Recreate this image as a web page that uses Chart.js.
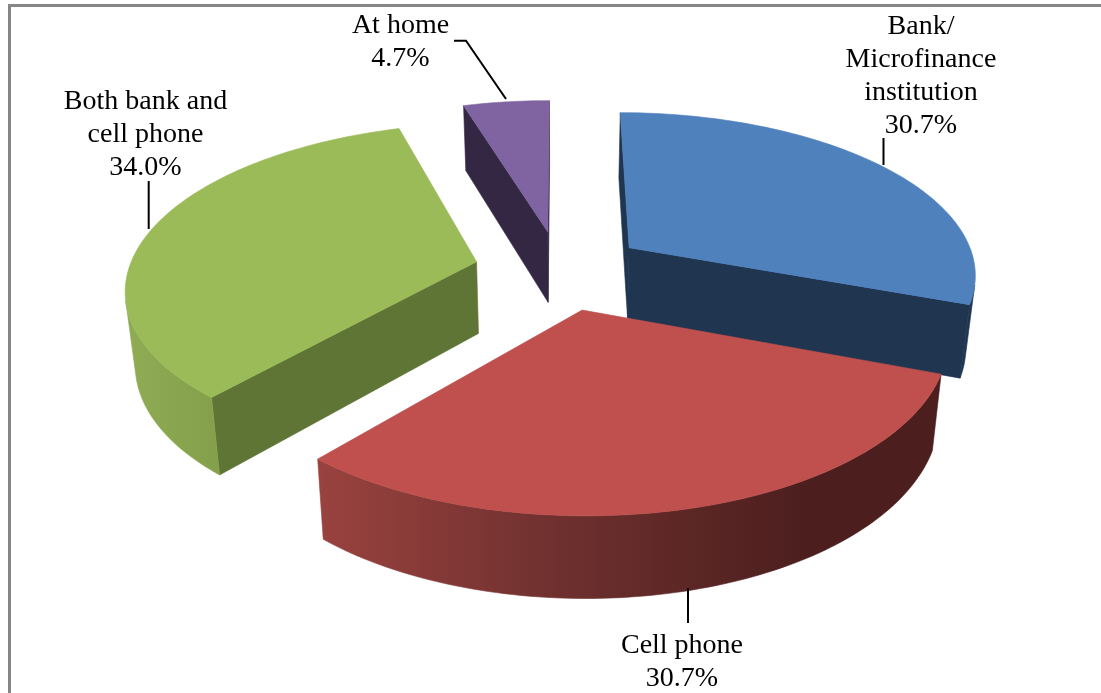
<!DOCTYPE html>
<html>
<head>
<meta charset="utf-8">
<style>
  html, body { margin: 0; padding: 0; background: #fff; overflow: hidden; }
  canvas { display: block; }
</style>
<script src="https://cdn.jsdelivr.net/npm/chart.js@4"></script>
</head>
<body>
<canvas id="chart" width="1101" height="693"></canvas>
<script>
// Where people keep their money: share of respondents per place
const categories = ['Bank/\nMicrofinance\ninstitution', 'Cell phone', 'Both bank and\ncell phone', 'At home'];
const shares = [30.7, 30.7, 34.0, 4.7];

const topColors = ['#4F81BD', '#C0504D', '#9BBB59', '#8064A2'];
const sideColors = ['#1F3550', '#4C1F1E', '#5F7536', '#332744'];
// Curved rim shading: horizontal screen range and colour stops for each slice
const rimShading = [
  { from: 900, to: 980, stops: ['#1F3550', '#1F3550'] },
  { from: 320, to: 800, stops: ['#99423F', '#6E302E', '#4C1F1E'] },
  { from: 128, to: 215, stops: ['#8FAB54', '#84A04A'] },
  { from: 460, to: 550, stops: ['#332744', '#332744'] }
];

const explosion = 0.247;           // slice pull-out, in pie radii
const paintOrder = [3, 2, 0, 1];   // far slices first

// Camera for the tilted pie: top plane and bottom plane of the disc
const camera = { cx: 560, perspective: 0.15, focal: 348, bottomShrink: 0.977,
                 topY: 270, topScale: 161.5, bottomY: 342, bottomScale: 168.5 };

const projectTop = (X, Y) => {
  const w = 1 - camera.perspective * Y;
  return [camera.cx + camera.focal * X / w, camera.topY + camera.topScale * Y / w];
};
const projectBottom = (X, Y) => {
  const w = 1 - camera.perspective * Y;
  return [camera.cx + camera.focal * camera.bottomShrink * X / w, camera.bottomY + camera.bottomScale * Y / w];
};

// Leader lines and label anchors
const labelAnchors = [[921, 34], [682, 653], [145.5, 109], [400.5, 33]];
const leaders = [
  [[883.5, 138], [883.5, 165]],
  [[688, 588], [688, 623]],
  [[148.7, 181], [148.7, 229]],
  [[454, 40.7], [466, 40.7], [506, 99]]
];

function fillPolygon(ctx, pts, fill) {
  ctx.beginPath();
  pts.forEach((p, i) => i ? ctx.lineTo(p[0], p[1]) : ctx.moveTo(p[0], p[1]));
  ctx.closePath();
  ctx.fillStyle = fill;
  ctx.strokeStyle = fill;
  ctx.lineWidth = 0.6;
  ctx.fill();
  ctx.stroke();
}

// Screen-space signed area; negative means the wall faces the viewer
function signedArea(pts) {
  let sum = 0;
  pts.forEach((p, i) => {
    const q = pts[(i + 1) % pts.length];
    sum += p[0] * q[1] - q[0] * p[1];
  });
  return sum;
}

function drawSlice(ctx, arc, index) {
  const { startAngle, endAngle } = arc.getProps(['startAngle', 'endAngle'], true);
  const mid = (startAngle + endAngle) / 2;
  const ox = explosion * Math.cos(mid);
  const oy = explosion * Math.sin(mid);

  // Outline in pie coordinates: apex, then along the rim
  const outline = [[ox, oy]];
  const steps = Math.max(6, Math.ceil((endAngle - startAngle) / 0.02));
  for (let s = 0; s <= steps; s++) {
    const a = startAngle + (endAngle - startAngle) * s / steps;
    outline.push([ox + Math.cos(a), oy + Math.sin(a)]);
  }

  const top = outline.map(p => projectTop(p[0], p[1]));
  const bottom = outline.map(p => projectBottom(p[0], p[1]));
  const last = outline.length - 1;

  const shade = rimShading[index];
  const rimFill = ctx.createLinearGradient(shade.from, 0, shade.to, 0);
  shade.stops.forEach((c, i) => rimFill.addColorStop(i / (shade.stops.length - 1), c));

  // Flat walls along the two straight edges
  [[0, 1], [last, 0]].forEach(([i, j]) => {
    const quad = [top[i], top[j], bottom[j], bottom[i]];
    if (signedArea(quad) < 0) fillPolygon(ctx, quad, sideColors[index]);
  });

  // Curved rim: each visible run of segments becomes one polygon so the shading stays smooth
  let run = [];
  const flush = () => {
    if (run.length) {
      const upper = run.map(i => top[i]);
      const lower = run.map(i => bottom[i]).reverse();
      fillPolygon(ctx, upper.concat(lower), rimFill);
    }
    run = [];
  };
  for (let i = 1; i < last; i++) {
    const facing = signedArea([top[i], top[i + 1], bottom[i + 1], bottom[i]]) < 0;
    if (facing) {
      if (!run.length) run.push(i);
      run.push(i + 1);
    } else {
      flush();
    }
  }
  flush();

  fillPolygon(ctx, top, topColors[index]);
}

const tiltedPie = {
  id: 'tiltedPie',
  beforeDatasetsDraw(chart) {
    const ctx = chart.ctx;
    const arcs = chart.getDatasetMeta(0).data;
    ctx.save();
    ctx.lineJoin = 'round';
    paintOrder.forEach(i => drawSlice(ctx, arcs[i], i));
    ctx.restore();
    return false;
  },
  afterDraw(chart) {
    const ctx = chart.ctx;
    ctx.save();

    // Chart-area frame along the top and left edges
    ctx.fillStyle = '#868686';
    ctx.fillRect(8, 4, chart.width - 8, 3);
    ctx.fillRect(8, 4, 3, chart.height - 4);

    // Leader lines
    ctx.strokeStyle = '#000';
    ctx.lineWidth = 2;
    leaders.forEach(line => {
      ctx.beginPath();
      line.forEach((p, i) => i ? ctx.lineTo(p[0], p[1]) : ctx.moveTo(p[0], p[1]));
      ctx.stroke();
    });

    // Labels: category lines followed by the share
    ctx.fillStyle = '#000';
    ctx.font = '28px "Liberation Serif"';
    ctx.textAlign = 'center';
    ctx.textBaseline = 'alphabetic';
    categories.forEach((name, i) => {
      const lines = name.split('\n').concat(shares[i].toFixed(1) + '%');
      lines.forEach((text, k) => ctx.fillText(text, labelAnchors[i][0], labelAnchors[i][1] + k * 33));
    });
    ctx.restore();
  }
};

new Chart(document.getElementById('chart'), {
  type: 'pie',
  data: {
    labels: categories,
    datasets: [{ data: shares, backgroundColor: topColors }]
  },
  options: {
    responsive: false,
    animation: false,
    plugins: { legend: { display: false }, tooltip: { enabled: false } }
  },
  plugins: [tiltedPie]
});
</script>
</body>
</html>
